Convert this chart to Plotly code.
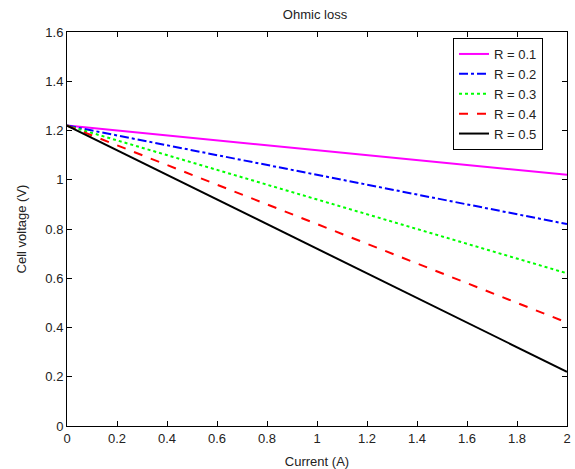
import plotly.graph_objects as go

current = [0, 0.5, 1.0, 1.5, 2.0]
resistances = ["R = 0.1", "R = 0.2", "R = 0.3", "R = 0.4", "R = 0.5"]
v_r01 = [1.22, 1.17, 1.12, 1.07, 1.02]
v_r02 = [1.22, 1.12, 1.02, 0.92, 0.82]
v_r03 = [1.22, 1.07, 0.92, 0.77, 0.62]
v_r04 = [1.22, 1.02, 0.82, 0.62, 0.42]
v_r05 = [1.22, 0.97, 0.72, 0.47, 0.22]
x_ticks = [0, 0.2, 0.4, 0.6, 0.8, 1.0, 1.2, 1.4, 1.6, 1.8, 2.0]
x_labels = ["0", "0.2", "0.4", "0.6", "0.8", "1", "1.2", "1.4", "1.6", "1.8", "2"]
y_ticks = [0, 0.2, 0.4, 0.6, 0.8, 1.0, 1.2, 1.4, 1.6]
y_labels = ["0", "0.2", "0.4", "0.6", "0.8", "1", "1.2", "1.4", "1.6"]

series = [v_r01, v_r02, v_r03, v_r04, v_r05]
colors = ["#ff00ff", "#0000ff", "#00ff00", "#ff0000", "#000000"]
dashes = ["solid", "dashdot", "dot", "dash", "solid"]

fig = go.Figure()
for name, ys, c, d in zip(resistances, series, colors, dashes):
    fig.add_trace(go.Scatter(x=current, y=ys, mode="lines", name=name,
                             line=dict(color=c, dash=d, width=2)))

axis_common = dict(showgrid=False, zeroline=False, showline=True, linecolor="black",
                   linewidth=1, mirror="ticks", ticks="inside", ticklen=5,
                   tickcolor="black", tickfont=dict(size=13, color="#222222"),
                   automargin=False, ticklabeloverflow="allow")

fig.update_layout(
    width=575, height=469,
    margin=dict(l=67, r=8, t=32, b=43),
    paper_bgcolor="white", plot_bgcolor="white",
    font=dict(family="Liberation Sans, Arial, sans-serif", size=13, color="#222222"),
    title=dict(text="Ohmic loss", x=315 / 575, xanchor="center",
               y=1 - 14 / 469, yanchor="middle", font=dict(size=13)),
    xaxis=dict(range=[0, 2], tickvals=x_ticks, ticktext=x_labels,
               title=dict(text="Current (A)", font=dict(size=13)), **axis_common),
    yaxis=dict(range=[0, 1.6], tickvals=y_ticks, ticktext=y_labels,
               title=dict(text="Cell voltage (V)", font=dict(size=13)), **axis_common),
    legend=dict(x=(453 - 67) / 500, y=(426 - 38) / 394, xanchor="left", yanchor="top",
                bgcolor="white", bordercolor="black", borderwidth=1,
                font=dict(size=13), tracegroupgap=0, itemwidth=30),
    showlegend=True,
)

fig.write_html("out.html", post_script="document.body.style.margin='0';",
               config={"displayModeBar": False})
